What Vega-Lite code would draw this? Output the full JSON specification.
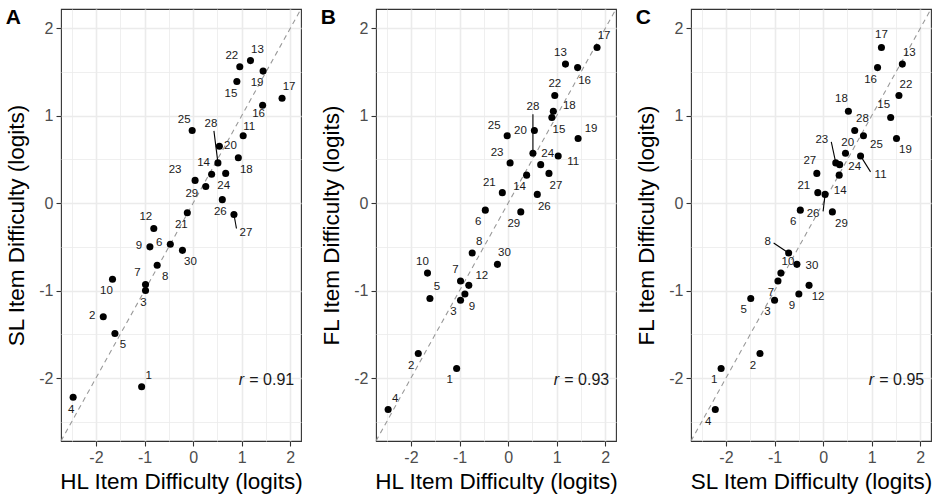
{
  "$schema": "https://vega.github.io/schema/vega-lite/v6.json",
  "padding": {"left": 5, "top": 6, "right": 5, "bottom": 3},
  "background": "white",
  "data": {"values": [
    {"item": 1, "HL": -1.06, "SL": -2.10, "FL": -1.89},
    {"item": 2, "HL": -1.85, "SL": -1.30, "FL": -1.72},
    {"item": 3, "HL": -0.98, "SL": -1.00, "FL": -1.11},
    {"item": 4, "HL": -2.47, "SL": -2.22, "FL": -2.36},
    {"item": 5, "HL": -1.61, "SL": -1.49, "FL": -1.09},
    {"item": 6, "HL": -0.47, "SL": -0.47, "FL": -0.08},
    {"item": 7, "HL": -0.98, "SL": -0.93, "FL": -0.89},
    {"item": 8, "HL": -0.74, "SL": -0.71, "FL": -0.57},
    {"item": 9, "HL": -0.89, "SL": -0.50, "FL": -1.04},
    {"item": 10, "HL": -1.66, "SL": -0.87, "FL": -0.80},
    {"item": 11, "HL": 1.03, "SL": 0.77, "FL": 0.54},
    {"item": 12, "HL": -0.81, "SL": -0.29, "FL": -0.94},
    {"item": 13, "HL": 1.18, "SL": 1.63, "FL": 1.59},
    {"item": 14, "HL": 0.38, "SL": 0.33, "FL": 0.32},
    {"item": 15, "HL": 0.90, "SL": 1.39, "FL": 0.98},
    {"item": 16, "HL": 1.43, "SL": 1.12, "FL": 1.55},
    {"item": 17, "HL": 1.83, "SL": 1.20, "FL": 1.78},
    {"item": 18, "HL": 0.93, "SL": 0.52, "FL": 1.05},
    {"item": 19, "HL": 1.44, "SL": 1.51, "FL": 0.74},
    {"item": 20, "HL": 0.54, "SL": 0.65, "FL": 0.83},
    {"item": 21, "HL": -0.12, "SL": -0.11, "FL": 0.12},
    {"item": 22, "HL": 0.96, "SL": 1.56, "FL": 1.23},
    {"item": 23, "HL": 0.04, "SL": 0.26, "FL": 0.46},
    {"item": 24, "HL": 0.67, "SL": 0.34, "FL": 0.44},
    {"item": 25, "HL": -0.02, "SL": 0.83, "FL": 0.77},
    {"item": 26, "HL": 0.60, "SL": 0.04, "FL": 0.10},
    {"item": 27, "HL": 0.84, "SL": -0.13, "FL": 0.34},
    {"item": 28, "HL": 0.51, "SL": 0.46, "FL": 0.57},
    {"item": 29, "HL": 0.26, "SL": 0.19, "FL": -0.10},
    {"item": 30, "HL": -0.22, "SL": -0.54, "FL": -0.70}
  ]},
  "spacing": 75,
  "bounds": "flush",
  "hconcat": [
    {
      "width": 240, "height": 432,
      "title": {"text": "A"},
      "encoding": {
        "x": {"field": "HL", "type": "quantitative", "scale": {"domain": [-2.72, 2.22], "nice": false, "zero": false},
          "axis": {"title": "HL Item Difficulty (logits)", "values": [-2.5, -2, -1.5, -1, -0.5, 0, 0.5, 1, 1.5, 2],
            "labelExpr": "datum.value % 1 === 0 ? '' + datum.value : ''",
            "tickOpacity": {"condition": {"test": "datum.value % 1 !== 0", "value": 0}, "value": 1},
            "gridWidth": {"condition": {"test": "datum.value % 1 !== 0", "value": 0.8}, "value": 1.6}}},
        "y": {"field": "SL", "type": "quantitative", "scale": {"domain": [-2.72, 2.22], "nice": false, "zero": false},
          "axis": {"title": "SL Item Difficulty (logits)", "values": [-2.5, -2, -1.5, -1, -0.5, 0, 0.5, 1, 1.5, 2],
            "labelExpr": "datum.value % 1 === 0 ? '' + datum.value : ''",
            "tickOpacity": {"condition": {"test": "datum.value % 1 !== 0", "value": 0}, "value": 1},
            "gridWidth": {"condition": {"test": "datum.value % 1 !== 0", "value": 0.8}, "value": 1.6}}}
      },
      "layer": [
        {"data": {"values": [{"lo": -2.72, "hi": 2.22}]}, "mark": {"type": "rule", "color": "#999999", "strokeDash": [5, 4], "strokeWidth": 1.1},
          "encoding": {"x": {"field": "lo", "type": "quantitative"}, "y": {"field": "lo", "type": "quantitative"}, "x2": {"field": "hi"}, "y2": {"field": "hi"}}},
        {"transform": [{"filter": {"field": "item", "equal": 28}}], "mark": {"type": "rule", "color": "#000000", "strokeWidth": 1.1, "x2Offset": -4, "y2Offset": -32}, "encoding": {"x2": {"field": "HL"}, "y2": {"field": "SL"}}},
        {"transform": [{"filter": {"field": "item", "equal": 27}}], "mark": {"type": "rule", "color": "#000000", "strokeWidth": 1.1, "x2Offset": 2.5, "y2Offset": 14}, "encoding": {"x2": {"field": "HL"}, "y2": {"field": "SL"}}},
        {"mark": {"type": "circle", "size": 50, "opacity": 1, "color": "#000000"}},
        {"transform": [{"filter": {"field": "item", "oneOf": [13, 17, 1]}}], "mark": {"type": "text", "dx": 7, "dy": -11}, "encoding": {"text": {"field": "item"}}},
        {"transform": [{"filter": {"field": "item", "oneOf": [11]}}], "mark": {"type": "text", "dx": 6, "dy": -9}, "encoding": {"text": {"field": "item"}}},
        {"transform": [{"filter": {"field": "item", "oneOf": [22, 25, 14, 12, 7]}}], "mark": {"type": "text", "dx": -8, "dy": -11}, "encoding": {"text": {"field": "item"}}},
        {"transform": [{"filter": {"field": "item", "oneOf": [19, 15, 21, 10]}}], "mark": {"type": "text", "dx": -6, "dy": 12}, "encoding": {"text": {"field": "item"}}},
        {"transform": [{"filter": {"field": "item", "oneOf": [16]}}], "mark": {"type": "text", "dx": -4, "dy": 9}, "encoding": {"text": {"field": "item"}}},
        {"transform": [{"filter": {"field": "item", "oneOf": [18, 30, 8, 5]}}], "mark": {"type": "text", "dx": 8, "dy": 12}, "encoding": {"text": {"field": "item"}}},
        {"transform": [{"filter": {"field": "item", "oneOf": [24, 26, 3, 4]}}], "mark": {"type": "text", "dx": -2, "dy": 12.5}, "encoding": {"text": {"field": "item"}}},
        {"transform": [{"filter": {"field": "item", "oneOf": [20]}}], "mark": {"type": "text", "dx": 11, "dy": 0}, "encoding": {"text": {"field": "item"}}},
        {"transform": [{"filter": {"field": "item", "oneOf": [9, 2, 6]}}], "mark": {"type": "text", "dx": -11, "dy": -1}, "encoding": {"text": {"field": "item"}}},
        {"transform": [{"filter": {"field": "item", "oneOf": [23]}}], "mark": {"type": "text", "dx": -20, "dy": -10}, "encoding": {"text": {"field": "item"}}},
        {"transform": [{"filter": {"field": "item", "oneOf": [29]}}], "mark": {"type": "text", "dx": -14, "dy": 7}, "encoding": {"text": {"field": "item"}}},
        {"transform": [{"filter": {"field": "item", "oneOf": [28]}}], "mark": {"type": "text", "dx": -7, "dy": -39}, "encoding": {"text": {"field": "item"}}},
        {"transform": [{"filter": {"field": "item", "oneOf": [27]}}], "mark": {"type": "text", "dx": 12, "dy": 18}, "encoding": {"text": {"field": "item"}}},
        {"data": {"values": [{"r": "= 0.91", "xr": 2.08, "yr": -2.02}]}, "mark": {"type": "text", "align": "right", "fontSize": 16, "color": "#1a1a1a"},
          "encoding": {"x": {"field": "xr", "type": "quantitative"}, "y": {"field": "yr", "type": "quantitative"}, "text": {"field": "r"}}},
        {"data": {"values": [{"r": "r", "xr": 2.08, "yr": -2.02}]}, "mark": {"type": "text", "align": "right", "fontSize": 16, "fontStyle": "italic", "color": "#1a1a1a", "dx": -50},
          "encoding": {"x": {"field": "xr", "type": "quantitative"}, "y": {"field": "yr", "type": "quantitative"}, "text": {"field": "r"}}}
      ]
    },
    {
      "width": 240, "height": 432,
      "title": {"text": "B"},
      "encoding": {
        "x": {"field": "HL", "type": "quantitative", "scale": {"domain": [-2.72, 2.22], "nice": false, "zero": false},
          "axis": {"title": "HL Item Difficulty (logits)", "values": [-2.5, -2, -1.5, -1, -0.5, 0, 0.5, 1, 1.5, 2],
            "labelExpr": "datum.value % 1 === 0 ? '' + datum.value : ''",
            "tickOpacity": {"condition": {"test": "datum.value % 1 !== 0", "value": 0}, "value": 1},
            "gridWidth": {"condition": {"test": "datum.value % 1 !== 0", "value": 0.8}, "value": 1.6}}},
        "y": {"field": "FL", "type": "quantitative", "scale": {"domain": [-2.72, 2.22], "nice": false, "zero": false},
          "axis": {"title": "FL Item Difficulty (logits)", "values": [-2.5, -2, -1.5, -1, -0.5, 0, 0.5, 1, 1.5, 2],
            "labelExpr": "datum.value % 1 === 0 ? '' + datum.value : ''",
            "tickOpacity": {"condition": {"test": "datum.value % 1 !== 0", "value": 0}, "value": 1},
            "gridWidth": {"condition": {"test": "datum.value % 1 !== 0", "value": 0.8}, "value": 1.6}}}
      },
      "layer": [
        {"data": {"values": [{"lo": -2.72, "hi": 2.22}]}, "mark": {"type": "rule", "color": "#999999", "strokeDash": [5, 4], "strokeWidth": 1.1},
          "encoding": {"x": {"field": "lo", "type": "quantitative"}, "y": {"field": "lo", "type": "quantitative"}, "x2": {"field": "hi"}, "y2": {"field": "hi"}}},
        {"transform": [{"filter": {"field": "item", "equal": 28}}], "mark": {"type": "rule", "color": "#000000", "strokeWidth": 1.1, "x2Offset": 0, "y2Offset": -39}, "encoding": {"x2": {"field": "HL"}, "y2": {"field": "FL"}}},
        {"mark": {"type": "circle", "size": 50, "opacity": 1, "color": "#000000"}},
        {"transform": [{"filter": {"field": "item", "oneOf": [17, 24, 8, 30, 5, 4]}}], "mark": {"type": "text", "dx": 7, "dy": -11}, "encoding": {"text": {"field": "item"}}},
        {"transform": [{"filter": {"field": "item", "oneOf": [19, 12]}}], "mark": {"type": "text", "dx": 13, "dy": -9}, "encoding": {"text": {"field": "item"}}},
        {"transform": [{"filter": {"field": "item", "oneOf": [25, 23, 21]}}], "mark": {"type": "text", "dx": -13, "dy": -10}, "encoding": {"text": {"field": "item"}}},
        {"transform": [{"filter": {"field": "item", "oneOf": [13, 10, 7]}}], "mark": {"type": "text", "dx": -5, "dy": -11}, "encoding": {"text": {"field": "item"}}},
        {"transform": [{"filter": {"field": "item", "oneOf": [22]}}], "mark": {"type": "text", "dx": 0, "dy": -12}, "encoding": {"text": {"field": "item"}}},
        {"transform": [{"filter": {"field": "item", "oneOf": [16, 15, 27, 26, 9]}}], "mark": {"type": "text", "dx": 7, "dy": 13}, "encoding": {"text": {"field": "item"}}},
        {"transform": [{"filter": {"field": "item", "oneOf": [14, 6, 29, 3, 2, 1]}}], "mark": {"type": "text", "dx": -7, "dy": 12}, "encoding": {"text": {"field": "item"}}},
        {"transform": [{"filter": {"field": "item", "oneOf": [20]}}], "mark": {"type": "text", "dx": -14, "dy": 0}, "encoding": {"text": {"field": "item"}}},
        {"transform": [{"filter": {"field": "item", "oneOf": [18]}}], "mark": {"type": "text", "dx": 16, "dy": -5}, "encoding": {"text": {"field": "item"}}},
        {"transform": [{"filter": {"field": "item", "oneOf": [11]}}], "mark": {"type": "text", "dx": 15, "dy": 6}, "encoding": {"text": {"field": "item"}}},
        {"transform": [{"filter": {"field": "item", "oneOf": [28]}}], "mark": {"type": "text", "dx": 0, "dy": -46}, "encoding": {"text": {"field": "item"}}},
        {"data": {"values": [{"r": "= 0.93", "xr": 2.08, "yr": -2.02}]}, "mark": {"type": "text", "align": "right", "fontSize": 16, "color": "#1a1a1a"},
          "encoding": {"x": {"field": "xr", "type": "quantitative"}, "y": {"field": "yr", "type": "quantitative"}, "text": {"field": "r"}}},
        {"data": {"values": [{"r": "r", "xr": 2.08, "yr": -2.02}]}, "mark": {"type": "text", "align": "right", "fontSize": 16, "fontStyle": "italic", "color": "#1a1a1a", "dx": -50},
          "encoding": {"x": {"field": "xr", "type": "quantitative"}, "y": {"field": "yr", "type": "quantitative"}, "text": {"field": "r"}}}
      ]
    },
    {
      "width": 240, "height": 432,
      "title": {"text": "C"},
      "encoding": {
        "x": {"field": "SL", "type": "quantitative", "scale": {"domain": [-2.72, 2.22], "nice": false, "zero": false},
          "axis": {"title": "SL Item Difficulty (logits)", "values": [-2.5, -2, -1.5, -1, -0.5, 0, 0.5, 1, 1.5, 2],
            "labelExpr": "datum.value % 1 === 0 ? '' + datum.value : ''",
            "tickOpacity": {"condition": {"test": "datum.value % 1 !== 0", "value": 0}, "value": 1},
            "gridWidth": {"condition": {"test": "datum.value % 1 !== 0", "value": 0.8}, "value": 1.6}}},
        "y": {"field": "FL", "type": "quantitative", "scale": {"domain": [-2.72, 2.22], "nice": false, "zero": false},
          "axis": {"title": "FL Item Difficulty (logits)", "values": [-2.5, -2, -1.5, -1, -0.5, 0, 0.5, 1, 1.5, 2],
            "labelExpr": "datum.value % 1 === 0 ? '' + datum.value : ''",
            "tickOpacity": {"condition": {"test": "datum.value % 1 !== 0", "value": 0}, "value": 1},
            "gridWidth": {"condition": {"test": "datum.value % 1 !== 0", "value": 0.8}, "value": 1.6}}}
      },
      "layer": [
        {"data": {"values": [{"lo": -2.72, "hi": 2.22}]}, "mark": {"type": "rule", "color": "#999999", "strokeDash": [5, 4], "strokeWidth": 1.1},
          "encoding": {"x": {"field": "lo", "type": "quantitative"}, "y": {"field": "lo", "type": "quantitative"}, "x2": {"field": "hi"}, "y2": {"field": "hi"}}},
        {"transform": [{"filter": {"field": "item", "equal": 23}}], "mark": {"type": "rule", "color": "#000000", "strokeWidth": 1.1, "x2Offset": -4.5, "y2Offset": -21}, "encoding": {"x2": {"field": "SL"}, "y2": {"field": "FL"}}},
        {"transform": [{"filter": {"field": "item", "equal": 11}}], "mark": {"type": "rule", "color": "#000000", "strokeWidth": 1.1, "x2Offset": 10, "y2Offset": 16}, "encoding": {"x2": {"field": "SL"}, "y2": {"field": "FL"}}},
        {"transform": [{"filter": {"field": "item", "equal": 26}}], "mark": {"type": "rule", "color": "#000000", "strokeWidth": 1.1, "x2Offset": -2, "y2Offset": 17}, "encoding": {"x2": {"field": "SL"}, "y2": {"field": "FL"}}},
        {"transform": [{"filter": {"field": "item", "equal": 8}}], "mark": {"type": "rule", "color": "#000000", "strokeWidth": 1.1, "x2Offset": -15, "y2Offset": -10}, "encoding": {"x2": {"field": "SL"}, "y2": {"field": "FL"}}},
        {"mark": {"type": "circle", "size": 50, "opacity": 1, "color": "#000000"}},
        {"transform": [{"filter": {"field": "item", "oneOf": [17]}}], "mark": {"type": "text", "dx": 0, "dy": -12}, "encoding": {"text": {"field": "item"}}},
        {"transform": [{"filter": {"field": "item", "oneOf": [13, 22, 10]}}], "mark": {"type": "text", "dx": 7, "dy": -11}, "encoding": {"text": {"field": "item"}}},
        {"transform": [{"filter": {"field": "item", "oneOf": [18, 15, 27]}}], "mark": {"type": "text", "dx": -7, "dy": -12}, "encoding": {"text": {"field": "item"}}},
        {"transform": [{"filter": {"field": "item", "oneOf": [21]}}], "mark": {"type": "text", "dx": -14, "dy": -7}, "encoding": {"text": {"field": "item"}}},
        {"transform": [{"filter": {"field": "item", "oneOf": [19, 12, 29]}}], "mark": {"type": "text", "dx": 9, "dy": 12}, "encoding": {"text": {"field": "item"}}},
        {"transform": [{"filter": {"field": "item", "oneOf": [25]}}], "mark": {"type": "text", "dx": 13, "dy": 9}, "encoding": {"text": {"field": "item"}}},
        {"transform": [{"filter": {"field": "item", "oneOf": [16, 20, 6, 9, 3, 5, 2, 1, 4, 7]}}], "mark": {"type": "text", "dx": -7, "dy": 12}, "encoding": {"text": {"field": "item"}}},
        {"transform": [{"filter": {"field": "item", "oneOf": [14]}}], "mark": {"type": "text", "dx": 1, "dy": 16}, "encoding": {"text": {"field": "item"}}},
        {"transform": [{"filter": {"field": "item", "oneOf": [24, 30]}}], "mark": {"type": "text", "dx": 15, "dy": 2}, "encoding": {"text": {"field": "item"}}},
        {"transform": [{"filter": {"field": "item", "oneOf": [28]}}], "mark": {"type": "text", "dx": 17, "dy": -34}, "encoding": {"text": {"field": "item"}}},
        {"transform": [{"filter": {"field": "item", "oneOf": [23]}}], "mark": {"type": "text", "dx": -14, "dy": -23}, "encoding": {"text": {"field": "item"}}},
        {"transform": [{"filter": {"field": "item", "oneOf": [11]}}], "mark": {"type": "text", "dx": 20, "dy": 19}, "encoding": {"text": {"field": "item"}}},
        {"transform": [{"filter": {"field": "item", "oneOf": [26]}}], "mark": {"type": "text", "dx": -12, "dy": 20}, "encoding": {"text": {"field": "item"}}},
        {"transform": [{"filter": {"field": "item", "oneOf": [8]}}], "mark": {"type": "text", "dx": -21, "dy": -11}, "encoding": {"text": {"field": "item"}}},
        {"data": {"values": [{"r": "= 0.95", "xr": 2.08, "yr": -2.02}]}, "mark": {"type": "text", "align": "right", "fontSize": 16, "color": "#1a1a1a"},
          "encoding": {"x": {"field": "xr", "type": "quantitative"}, "y": {"field": "yr", "type": "quantitative"}, "text": {"field": "r"}}},
        {"data": {"values": [{"r": "r", "xr": 2.08, "yr": -2.02}]}, "mark": {"type": "text", "align": "right", "fontSize": 16, "fontStyle": "italic", "color": "#1a1a1a", "dx": -50},
          "encoding": {"x": {"field": "xr", "type": "quantitative"}, "y": {"field": "yr", "type": "quantitative"}, "text": {"field": "r"}}}
      ]
    }
  ],
  "config": {
    "font": "Liberation Sans",
    "view": {"stroke": "#333333", "strokeWidth": 1.1},
    "title": {"anchor": "start", "frame": "bounds", "fontSize": 21, "fontWeight": "bold", "font": "Liberation Sans", "color": "#000000", "offset": -8, "baseline": "alphabetic", "dy": 12},
    "axis": {"labelFont": "Liberation Sans", "labelFontSize": 16, "labelColor": "#4d4d4d", "titleFont": "Liberation Sans", "titleFontSize": 22.5, "titleFontWeight": "normal", "titleColor": "#000000", "tickColor": "#333333", "tickSize": 5, "tickWidth": 1.1, "domain": false, "gridColor": "#ebebeb", "labelPadding": 3, "labelOverlap": false, "labelFlush": false},
    "axisX": {"titlePadding": 5},
    "axisY": {"titlePadding": 10},
    "text": {"font": "Liberation Sans", "fontSize": 11.5, "color": "#1a1a1a", "align": "center", "baseline": "middle"}
  }
}
